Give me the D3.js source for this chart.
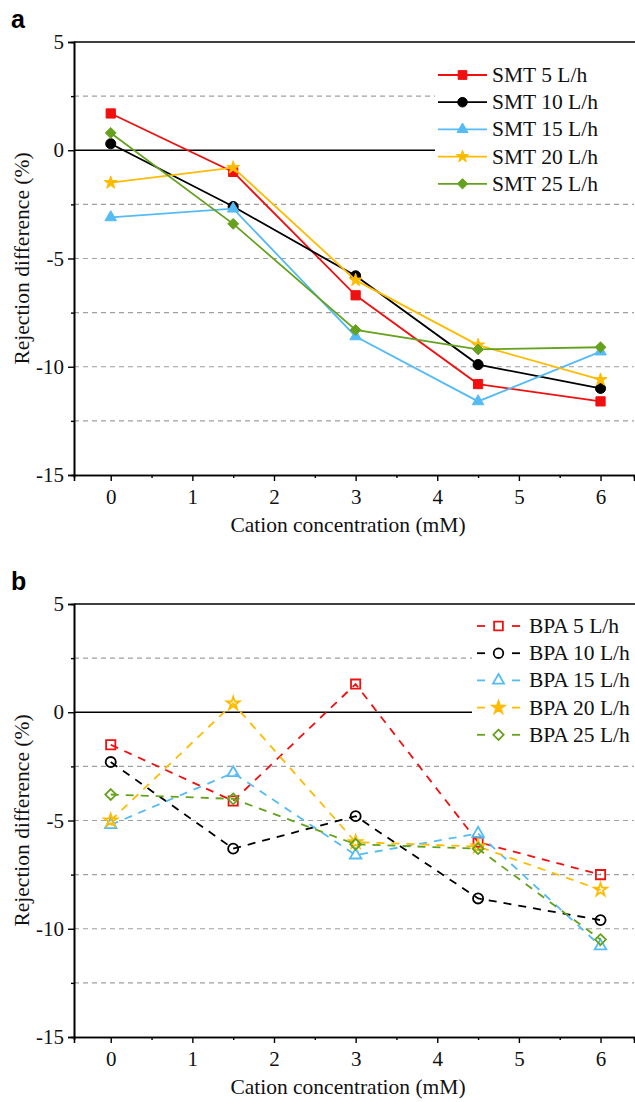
<!DOCTYPE html>
<html>
<head>
<meta charset="utf-8">
<script src="https://cdn.jsdelivr.net/npm/d3@7"></script>
<style>
  body { margin: 0; background: #fff; }
  svg text { font-family: "Liberation Serif", "Times New Roman", Tinos, "DejaVu Serif", serif; }
</style>
</head>
<body>
<script>
// Data
// =================================
var concentrations = [0, 1.5, 3, 4.5, 6];

var smtNames = ["SMT 5 L/h", "SMT 10 L/h", "SMT 15 L/h", "SMT 20 L/h", "SMT 25 L/h"];
var smt5 = [1.7, -1.0, -6.7, -10.8, -11.6];
var smt10 = [0.3, -2.6, -5.8, -9.9, -11.0];
var smt15 = [-3.1, -2.7, -8.6, -11.6, -9.3];
var smt20 = [-1.5, -0.8, -6.0, -9.0, -10.6];
var smt25 = [0.8, -3.4, -8.3, -9.2, -9.1];

var bpaNames = ["BPA 5 L/h", "BPA 10 L/h", "BPA 15 L/h", "BPA 20 L/h", "BPA 25 L/h"];
var bpa5 = [-1.5, -4.1, 1.3, -6.0, -7.5];
var bpa10 = [-2.3, -6.3, -4.8, -8.6, -9.6];
var bpa15 = [-5.2, -2.8, -6.6, -5.6, -10.8];
var bpa20 = [-5.0, 0.4, -6.0, -6.2, -8.2];
var bpa25 = [-3.8, -4.0, -6.1, -6.3, -10.5];

var xTicks = [0, 1, 2, 3, 4, 5, 6];
var yTicks = [5, 0, -5, -10, -15];
var gridValues = [2.5, -2.5, -5, -7.5, -10, -12.5];

var colors = ["#f01010", "#000000", "#55bbf5", "#ffbb00", "#66a11e"];
var symbols = [d3.symbolSquare, d3.symbolCircle, d3.symbolTriangle, d3.symbolStar, d3.symbolDiamond2];
var symbolSizes = [85, 80, 58, 52, 75];
var serif = "'Liberation Serif', 'Times New Roman', Tinos, 'DejaVu Serif', serif";

// SVG area
// =================================
var svgWidth = 635;
var svgHeight = 1102;

var svg = d3.select("body")
    .append("svg")
    .attr("width", svgWidth)
    .attr("height", svgHeight);

// one panel
function drawPanel(opts) {
    var left = 74, right = 634;
    var top = opts.top, bottom = opts.top + 433;

    var x = d3.scaleLinear().domain([-0.45, 6.41]).range([left, right]);
    var y = d3.scaleLinear().domain([-15, 5]).range([bottom, top]);

    var g = svg.append("g");

    // panel letter
    svg.append("text")
        .attr("x", 11)
        .attr("y", top - 14)
        .style("font-family", "'Liberation Sans', Arial, sans-serif")
        .style("font-weight", "bold")
        .style("font-size", "25px")
        .text(opts.letter);

    // gridlines
    g.selectAll(".grid")
        .data(gridValues)
        .enter()
        .append("line")
        .attr("x1", left)
        .attr("x2", right)
        .attr("y1", d => y(d))
        .attr("y2", d => y(d))
        .attr("stroke", "#a0a0a0")
        .attr("stroke-width", 1.2)
        .attr("stroke-dasharray", "5,4");

    // zero line
    g.append("line")
        .attr("x1", left)
        .attr("x2", right)
        .attr("y1", y(0))
        .attr("y2", y(0))
        .attr("stroke", "#000")
        .attr("stroke-width", 1.6);

    // legend background (hides grid behind it)
    var lg = svg.append("g");
    lg.append("rect")
        .attr("x", opts.legX)
        .attr("y", opts.legY - 17)
        .attr("width", right - opts.legX)
        .attr("height", 5 * 27.2 + 6)
        .attr("fill", "#fff");

    // top frame
    g.append("line")
        .attr("x1", left)
        .attr("x2", right + 2)
        .attr("y1", top)
        .attr("y2", top)
        .attr("stroke", "#000")
        .attr("stroke-width", 1.6);

    // axes
    var bottomAxis = d3.axisBottom(x)
        .tickValues(xTicks)
        .tickSize(6)
        .tickPadding(8)
        .tickFormat(d3.format("d"));
    var minorX = d3.axisBottom(x)
        .tickValues([0.5, 1.5, 2.5, 3.5, 4.5, 5.5])
        .tickSize(3)
        .tickFormat("");
    var leftAxis = d3.axisLeft(y)
        .tickValues(yTicks)
        .tickSize(6)
        .tickPadding(4)
        .tickFormat(d => d < 0 ? "-" + Math.abs(d) : d);
    var minorY = d3.axisLeft(y)
        .tickValues([2.5, -2.5, -7.5, -12.5])
        .tickSize(3)
        .tickFormat("");

    [[bottomAxis, `translate(0, ${bottom})`], [minorX, `translate(0, ${bottom})`],
     [leftAxis, `translate(${left}, 0)`], [minorY, `translate(${left}, 0)`]].forEach(function (a) {
        var ax = g.append("g")
            .attr("transform", a[1])
            .call(a[0])
            .attr("font-family", serif);
        ax.select(".domain").attr("stroke-width", 1.6).attr("stroke", "#000");
        ax.selectAll(".tick line").attr("stroke-width", 1.4).attr("stroke", "#000");
        ax.selectAll("text")
            .style("font-family", serif)
            .style("font-size", "21px")
            .attr("fill", "#111");
    });

    // axis titles
    g.append("text")
        .attr("x", (left + right) / 2 - 6)
        .attr("y", bottom + 57)
        .attr("text-anchor", "middle")
        .style("font-family", serif)
        .style("font-size", "21.5px")
        .attr("fill", "#111")
        .text("Cation concentration (mM)");

    g.append("text")
        .attr("transform", `translate(29, ${(top + bottom) / 2}) rotate(-90)`)
        .attr("text-anchor", "middle")
        .style("font-family", serif)
        .style("font-size", "21.5px")
        .attr("fill", "#111")
        .text("Rejection difference (%)");

    // lines and markers
    var line = d3.line()
        .x((d, i) => x(concentrations[i]))
        .y(d => y(d));

    opts.series.forEach(function (vals, k) {
        var sg = svg.append("g");
        sg.append("path")
            .datum(vals)
            .attr("d", line)
            .attr("fill", "none")
            .attr("stroke", colors[k])
            .attr("stroke-width", 1.8)
            .attr("stroke-dasharray", opts.dashed ? "8,7" : null);

        sg.selectAll("path.pt")
            .data(vals)
            .enter()
            .append("path")
            .attr("class", "pt")
            .attr("transform", (d, i) => `translate(${x(concentrations[i])}, ${y(d)})`)
            .attr("d", d3.symbol().type(symbols[k]).size(symbolSizes[k]))
            .attr("fill", opts.dashed ? "#fff" : colors[k])
            .attr("fill-opacity", opts.dashed ? 0 : 1)
            .attr("stroke", colors[k])
            .attr("stroke-width", opts.dashed ? 1.8 : 1);
    });

    // legend
    opts.names.forEach(function (name, k) {
        var ly = opts.legY + k * 27.2;
        var row = lg.append("g");
        var segs = opts.dashed ? [[5, 13], [40, 48]] : [[3, 52]];
        segs.forEach(function (seg) {
            row.append("line")
                .attr("x1", opts.legX + seg[0])
                .attr("x2", opts.legX + seg[1])
                .attr("y1", ly)
                .attr("y2", ly)
                .attr("stroke", colors[k])
                .attr("stroke-width", 1.8);
        });
        row.append("path")
            .attr("transform", `translate(${opts.legX + (opts.dashed ? 26.5 : 27.5)}, ${ly})`)
            .attr("d", d3.symbol().type(symbols[k]).size(symbolSizes[k] * 0.9))
            .attr("fill", opts.dashed && k != 3 ? "none" : colors[k])
            .attr("stroke", colors[k])
            .attr("stroke-width", opts.dashed ? 1.8 : 1);
        row.append("text")
            .attr("x", opts.legX + 57)
            .attr("y", ly + 7)
            .style("font-family", serif)
            .style("font-size", "21.5px")
            .attr("fill", "#111")
            .text(name);
    });
}

drawPanel({
    letter: "a",
    top: 42,
    series: [smt5, smt10, smt15, smt20, smt25],
    names: smtNames,
    dashed: false,
    legX: 435,
    legY: 75
});

drawPanel({
    letter: "b",
    top: 604,
    series: [bpa5, bpa10, bpa15, bpa20, bpa25],
    names: bpaNames,
    dashed: true,
    legX: 472,
    legY: 626
});
</script>
</body>
</html>
